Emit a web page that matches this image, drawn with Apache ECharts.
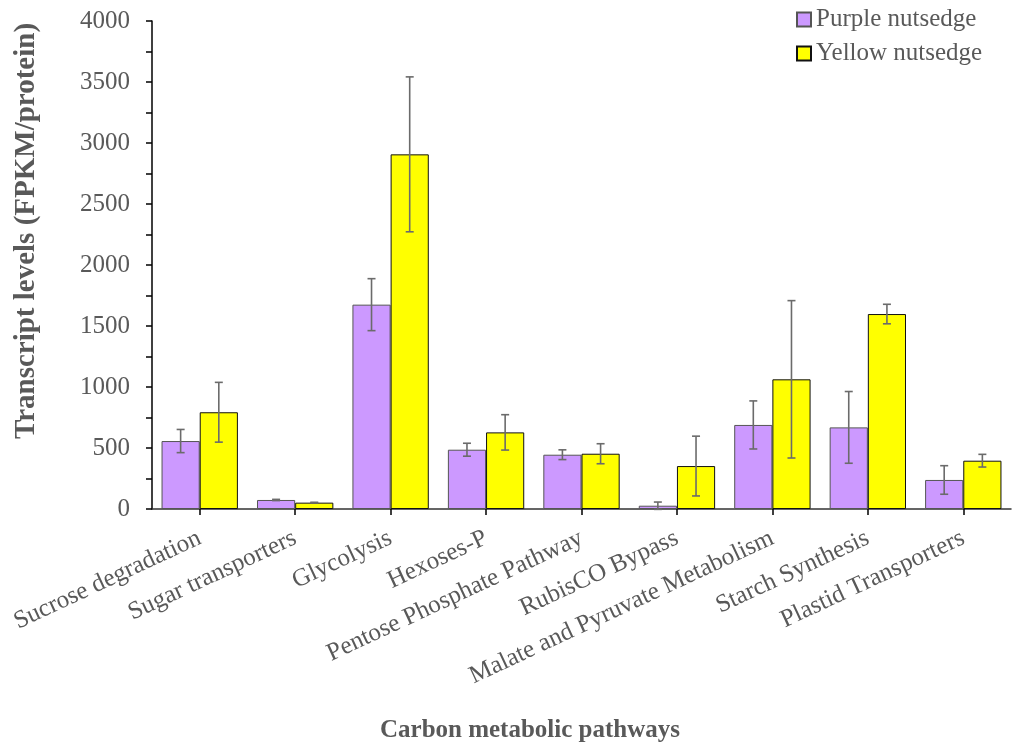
<!DOCTYPE html>
<html>
<head>
<meta charset="utf-8">
<script src="https://cdn.jsdelivr.net/npm/echarts@6/dist/echarts.min.js"></script>
<style>html,body{margin:0;padding:0;background:#fff}#c{width:1013px;height:754px}</style>
</head>
<body>
<div id="c"></div>
<script>
var categories = ['Sucrose degradation','Sugar transporters','Glycolysis','Hexoses-P','Pentose Phosphate Pathway','RubisCO Bypass','Malate and Pyruvate Metabolism','Starch Synthesis','Plastid Transporters'];
var purple = [557, 74, 1675, 486, 445, 27, 689, 669, 238];
var purpleErr = [95, 5, 213, 53, 40, 30, 197, 294, 117];
var yellow = [793, 52, 2907, 628, 453, 352, 1063, 1598, 396];
var yellowErr = [245, 3, 635, 145, 82, 245, 645, 80, 52];
var yTicks = [0, 500, 1000, 1500, 2000, 2500, 3000, 3500, 4000];

var FONT = '"Liberation Serif", "Times New Roman", serif';
var TXT = '#595959';

function errData(vals, errs) {
  return vals.map(function (v, i) { return [i, v - errs[i], v + errs[i]]; });
}
function errRender(side) {
  return function (params, api) {
    var i = api.value(0);
    var lo = api.coord([i, api.value(1)]);
    var hi = api.coord([i, api.value(2)]);
    var band = api.size([1, 0])[0];
    var x = lo[0] + side * band * 0.2;
    var cap = 4;
    var st = { stroke: '#6b6b6b', lineWidth: 1.6 };
    return {
      type: 'group',
      children: [
        { type: 'line', shape: { x1: x, y1: lo[1], x2: x, y2: hi[1] }, style: st },
        { type: 'line', shape: { x1: x - cap, y1: lo[1], x2: x + cap, y2: lo[1] }, style: st },
        { type: 'line', shape: { x1: x - cap, y1: hi[1], x2: x + cap, y2: hi[1] }, style: st }
      ]
    };
  };
}

var chart = echarts.init(document.getElementById('c'), null, { renderer: 'canvas' });
chart.setOption({
  animation: false,
  backgroundColor: '#fff',
  textStyle: { fontFamily: FONT },
  grid: { left: 152, right: 2, top: 21, bottom: 245, containLabel: false },
  legend: {
    orient: 'vertical', left: 796, top: 7, padding: 0, itemWidth: 14, itemHeight: 14, itemGap: 9, icon: 'rect',
    textStyle: { fontFamily: FONT, fontSize: 25, color: TXT },
    data: ['Purple nutsedge', 'Yellow nutsedge']
  },
  xAxis: {
    type: 'category', data: categories,
    axisLine: { lineStyle: { color: '#333', width: 1.5 } },
    axisTick: { show: true, alignWithLabel: true, length: 6, lineStyle: { color: '#000', width: 1.5 } },
    axisLabel: { rotate: 25, interval: 0, margin: 28, fontFamily: FONT, fontSize: 25, color: TXT }
  },
  yAxis: {
    type: 'value', min: yTicks[0], max: yTicks[yTicks.length - 1], interval: 500,
    axisLine: { show: true, lineStyle: { color: '#000', width: 1.5 } },
    axisTick: { show: true, length: 6, lineStyle: { color: '#000', width: 1.5 } },
    minorTick: { show: true, splitNumber: 2, length: 6, lineStyle: { color: '#000', width: 1.5 } },
    splitLine: { show: false },
    axisLabel: { margin: 22, fontFamily: FONT, fontSize: 25, color: TXT, formatter: function (v) { return String(v); } }
  },
  series: [
    { name: 'Purple nutsedge', type: 'bar', data: purple, barGap: 0, barCategoryGap: '20%',
      itemStyle: { color: '#CC99FF', borderColor: '#555', borderWidth: 1 } },
    { name: 'Yellow nutsedge', type: 'bar', data: yellow, barGap: 0, barCategoryGap: '20%',
      itemStyle: { color: '#FFFF00', borderColor: '#111', borderWidth: 1 } },
    { type: 'custom', z: 5, renderItem: errRender(-1), data: errData(purple, purpleErr), encode: { x: 0, y: [1, 2] } },
    { type: 'custom', z: 5, renderItem: errRender(1), data: errData(yellow, yellowErr), encode: { x: 0, y: [1, 2] } }
  ],
  graphic: [
    { type: 'text', x: 27, y: 231, rotation: Math.PI / 2,
      style: { text: 'Transcript levels (FPKM/protein)', font: 'bold 29px ' + FONT, fill: TXT, textAlign: 'center', textVerticalAlign: 'middle' } },
    { type: 'text', x: 530, y: 731,
      style: { text: 'Carbon metabolic pathways', font: 'bold 25px ' + FONT, fill: TXT, textAlign: 'center', textVerticalAlign: 'middle' } }
  ]
});
</script>
</body>
</html>
